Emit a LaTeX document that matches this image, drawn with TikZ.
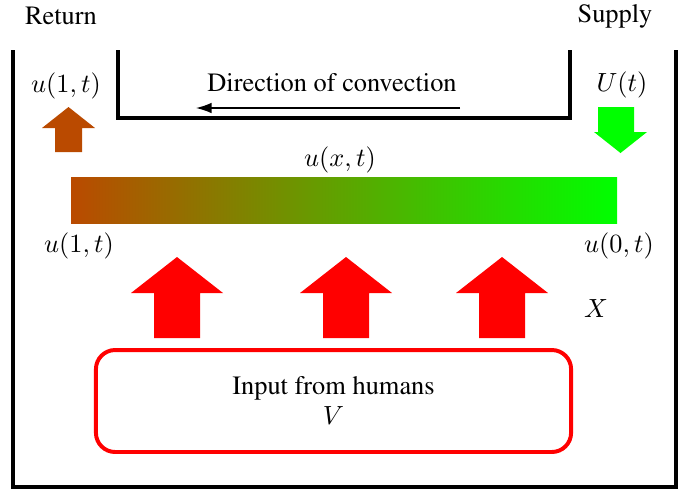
\documentclass[tikz,border=0pt]{standalone}
\usepackage[T1]{fontenc}
\usepackage{times}
\usetikzlibrary{arrows.meta}

\definecolor{retbrown}{RGB}{186,74,0}
\definecolor{supgreen}{RGB}{0,255,0}

\tikzset{
  wall/.style={line width=1.65pt, line join=miter},
  lbl/.style={inner sep=0pt},
  heat/.style={fill=red},
}

\begin{document}
\begin{tikzpicture}[x=0.4167pt, y=-0.4167pt, font=\fontsize{11}{12.5}\selectfont]
\useasboundingbox (0,0) rectangle (683,491);
%
\draw[wall] (13,50) -- (13,487) -- (676,487) -- (676,50);
\draw[wall] (118,50) -- (118,118) -- (570,118) -- (570,50);
\node[lbl] (ret) at (61,16) {Return};
\node[lbl] (sup) at (615,16) {Supply};
%
\node[lbl] (conv) at (332,83) {Direction of convection};
\coordinate (convA) at (460,108);
\coordinate (convB) at (196,108);
\draw[line width=0.55pt, -{Latex[length=6.5pt,width=4.4pt]}] (convA) -- (convB);
%
\node[lbl] (uout) at (66,86) {$u(1,t)$};
\fill[retbrown] (55,152) -- (55,128) -- (42,128) -- (68.5,107) -- (95,128) -- (82,128) -- (82,152) -- cycle;
\node[lbl] (uin) at (622,85) {$U(t)$};
\fill[supgreen] (598,107) -- (634,107) -- (634,132) -- (647,132) -- (620.5,153) -- (594,132) -- (598,132) -- cycle;
%
\node[lbl] (uxt) at (340,160) {$u(x,t)$};
\shade[left color=retbrown, right color=supgreen] (71,177) rectangle (617,223);
\node[lbl] (uend) at (79,246) {$u(1,t)$};
\node[lbl] (ustart) at (619,246) {$u(0,t)$};
%
\foreach \cx in {177,346,502}
  \fill[heat] (\cx-23,338) -- (\cx-23,293) -- (\cx-46,293) -- (\cx,257) -- (\cx+46,293) -- (\cx+23,293) -- (\cx+23,338) -- cycle;
\node[lbl] (xin) at (596,309) {$X$};
%
\node[draw=red, line width=1.65pt, rounded corners=8pt, minimum width=198pt, minimum height=42.5pt, align=center] (humans) at (333.5,401) {Input from humans\\$V$};
\end{tikzpicture}
\end{document}
